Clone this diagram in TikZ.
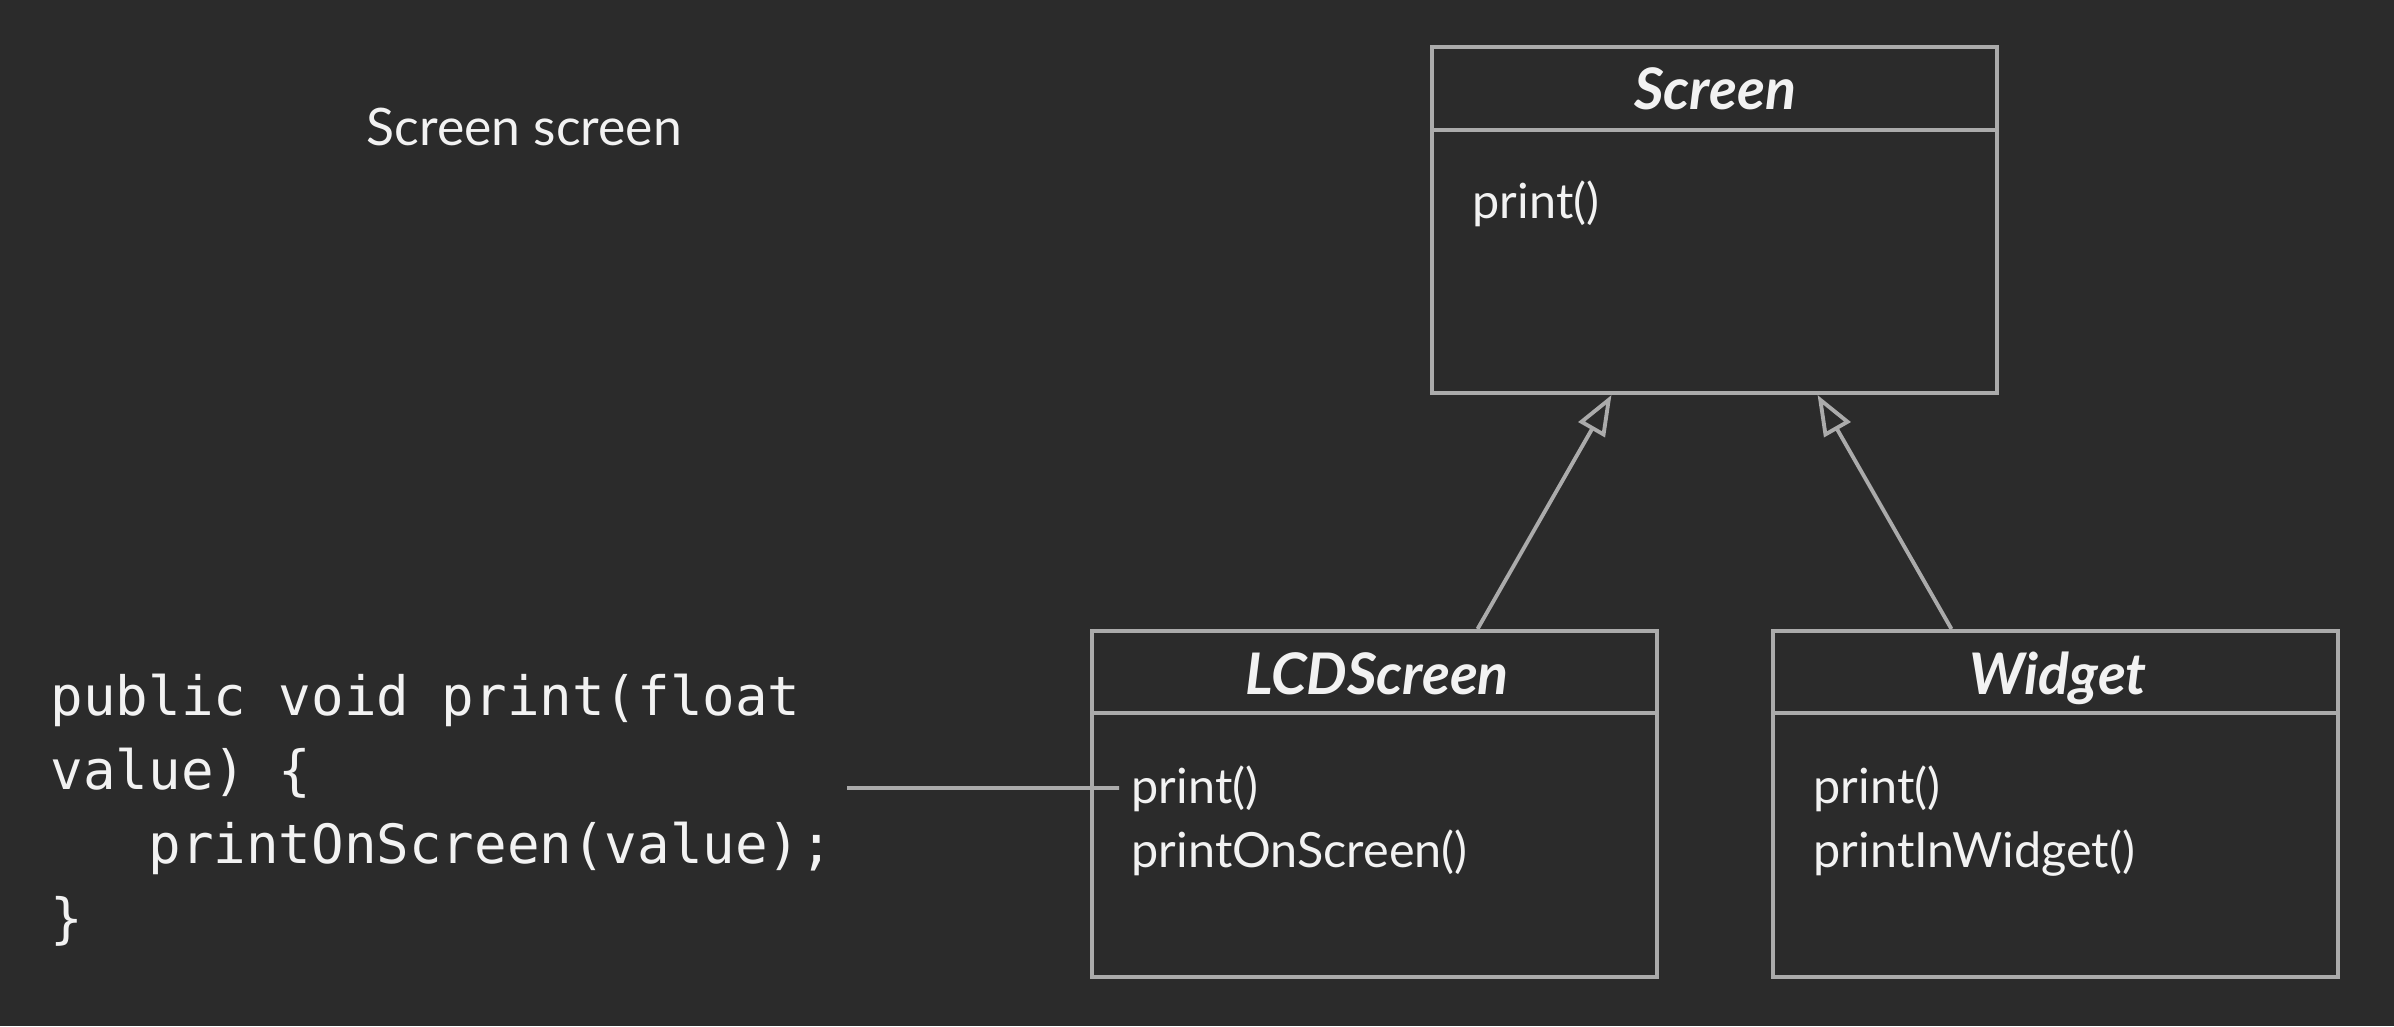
\documentclass[tikz,border=0pt]{standalone}
\usepackage{fontspec}
\setmainfont{Lato}
\newfontfamily\codefont{DejaVu Sans Mono}
\usetikzlibrary{arrows.meta}
\definecolor{bg}{HTML}{2B2B2B}
\definecolor{ln}{HTML}{ABABAB}
\definecolor{tx}{HTML}{F2F2F2}
\begin{document}
\begin{tikzpicture}[x=0.01cm,y=-0.01cm,
  classbox/.style={draw=ln,line width=1.1pt,fill=bg,rectangle,minimum width=5.65cm,minimum height=3.46cm,inner sep=0pt},
  divider/.style={draw=ln,line width=1.1pt},
  title/.style={text=tx,font=\fontsize{16.3}{19}\selectfont\bfseries\itshape,anchor=base,inner sep=0pt},
  meth/.style={text=tx,font=\fontsize{13.8}{16}\selectfont,anchor=base west,inner sep=0pt},
  inherit/.style={draw=ln,line width=1.1pt,-{Triangle[open,length=0.4cm,width=0.3cm,fill=bg]}},
  link/.style={draw=ln,line width=1.1pt}]
\fill[bg] (0,0) rectangle (2394,1026);
\useasboundingbox (0,0) rectangle (2394,1026);
% caption
\node[text=tx,font=\fontsize{14.7}{17}\selectfont,anchor=base west,inner sep=0pt] (caption) at (366,145) {Screen screen};
% Screen class
\node[classbox] (screen) at (1714.5,220) {};
\draw[divider] (1432,130) -- (1997,130);
\node[title] (screent) at (1715,109) {Screen};
\node[meth] (screenp) at (1472,218) {print()};
% LCDScreen class
\node[classbox] (lcd) at (1374.5,804) {};
\draw[divider] (1092,713) -- (1657,713);
\node[title] (lcdt) at (1377,694) {LCDScreen};
\node[meth] (lcdp1) at (1131,803) {print()};
\node[meth] (lcdp2) at (1131,867) {printOnScreen()};
% Widget class
\node[classbox] (widget) at (2055.5,804) {};
\draw[divider] (1773,713) -- (2338,713);
\node[title] (widt) at (2058,694) {Widget};
\node[meth] (widp1) at (1813,803) {print()};
\node[meth] (widp2) at (1813,867) {printInWidget()};
% inheritance
\draw[inherit] ([xshift=1.03cm]lcd.north) -- ([xshift=-1.03cm]screen.south);
\draw[inherit] ([xshift=-1.04cm]widget.north) -- ([xshift=1.03cm]screen.south);
% code
\node[text=tx,font=\codefont\fontsize{15.4}{21.1}\selectfont,anchor=north west,align=left,inner sep=0pt] (code) at (50,673)
 {public void print(float\\value) \{\\\phantom{abc}printOnScreen(value);\\\}};
\coordinate (codeend) at (847,788);
\draw[link] (codeend) -- ([xshift=-0.12cm,yshift=0.15cm]lcdp1.base west);
\end{tikzpicture}
\end{document}
